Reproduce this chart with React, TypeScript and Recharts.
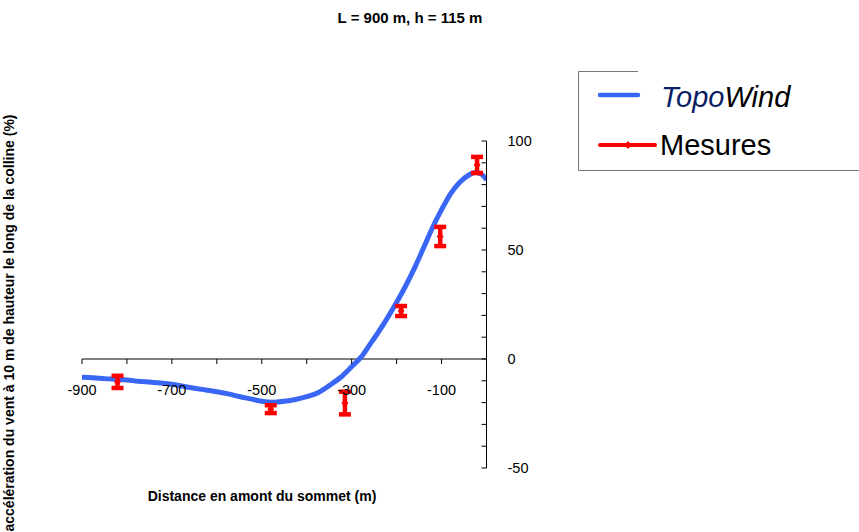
import {
  ComposedChart,
  ErrorBar,
  Line,
  ReferenceDot,
  ReferenceLine,
  Scatter,
  XAxis,
  YAxis,
} from "recharts";

const TOPO_X = [
  -900, -875, -850, -825, -800, -775, -750, -725, -700, -675, -650, -625, -600,
  -575, -550, -525, -500, -475, -450, -425, -400, -375, -350, -325, -300, -280,
  -260, -240, -220, -200, -180, -160, -140, -120, -100, -80, -60, -40, -25, -12, 0,
];
const TOPO_Y = [
  -8.4, -8.6, -9.0, -9.3, -9.6, -10.2, -10.6, -11.0, -11.6, -12.5, -13.4, -14.2,
  -15.0, -16.0, -17.2, -18.3, -19.4, -19.8, -19.4, -18.6, -17.3, -15.5, -12.2,
  -8.5, -3.5, 0.6, 6.5, 12.5, 19.0, 26.0, 33.5, 41.8, 51.0, 60.3, 68.5, 75.8,
  81.0, 84.3, 85.5, 84.8, 82.2,
];

const MES_X = [-821, -480, -315, -190, -103, -21];
const MES_Y = [-10.5, -23, -20.2, 22, 56.2, 89];
const MES_ERR = [2.8, 1.8, 5.2, 2.3, 4.4, 3.7];

const X_TICKS = [-900, -800, -700, -600, -500, -400, -300, -200, -100];
const X_LABELS = [-900, -700, -500, -300, -100];
const Y_TICKS = [-50, -40, -30, -20, -10, 0, 10, 20, 30, 40, 50, 60, 70, 80, 90, 100];
const Y_LABELS = [-50, 0, 50, 100];

const FONT = '"Liberation Sans", Arial, sans-serif';
const BLUE = "#3A66F5";
const RED = "#FF0000";

const topo = TOPO_X.map((x, i) => ({ x, y: TOPO_Y[i] }));
const mesures = MES_X.map((x, i) => ({ x, y: MES_Y[i], err: MES_ERR[i] }));

const YTick = (props: any) => {
  const { x, y, payload } = props;
  return (
    <g>
      <line x1={x - 5} y1={y} x2={x} y2={y} stroke="#000" />
      {Y_LABELS.includes(payload.value) && (
        <text
          x={x + 21}
          y={y}
          textAnchor="start"
          dominantBaseline="central"
          fontFamily={FONT}
          fontSize={14.5}
          fill="#000"
        >
          {payload.value}
        </text>
      )}
    </g>
  );
};

const Diamond = (props: any) => {
  const { cx, cy } = props;
  return (
    <path
      d={`M${cx},${cy - 4}L${cx + 3.5},${cy}L${cx},${cy + 4}L${cx - 3.5},${cy}Z`}
      fill={RED}
    />
  );
};

export default function App() {
  return (
    <div style={{ position: "absolute", left: 0, top: 0, width: 859, height: 532 }}>
      <ComposedChart
        width={859}
        height={532}
        margin={{ top: 141, right: 312.5, bottom: 64, left: 82 }}
      >
        <XAxis
          dataKey="x"
          type="number"
          domain={[-900, 0]}
          allowDataOverflow
          hide
        />
        <YAxis
          dataKey="y"
          type="number"
          orientation="right"
          domain={[-50, 100]}
          ticks={Y_TICKS}
          interval={0}
          allowDataOverflow
          width={60}
          tickSize={0}
          tickMargin={0}
          tickLine={false}
          axisLine={{ stroke: "#000" }}
          tick={YTick}
        />
        <ReferenceLine y={0} stroke="#000" />
        <Line
          data={topo}
          dataKey="y"
          type="monotone"
          stroke={BLUE}
          strokeWidth={5}
          dot={false}
          isAnimationActive={false}
        />
        {X_TICKS.map((t) => (
          <ReferenceDot
            key={t}
            x={t}
            y={0}
            r={0}
            shape={(p: any) => (
              <g>
                <line x1={p.cx} y1={p.cy} x2={p.cx} y2={p.cy + 5} stroke="#000" />
                {X_LABELS.includes(t) && (
                  <text
                    x={p.cx}
                    y={p.cy + 31}
                    textAnchor="middle"
                    dominantBaseline="central"
                    fontFamily={FONT}
                    fontSize={14.5}
                    fill="#000"
                  >
                    {t}
                  </text>
                )}
              </g>
            )}
          />
        ))}
        <Scatter
          data={mesures}
          dataKey="y"
          fill={RED}
          shape={Diamond}
          isAnimationActive={false}
        >
          <ErrorBar
            dataKey="err"
            direction="y"
            width={6}
            strokeWidth={4.5}
            stroke={RED}
            isAnimationActive={false}
          />
        </Scatter>
      </ComposedChart>

      <svg
        width={859}
        height={532}
        style={{ position: "absolute", left: 0, top: 0, pointerEvents: "none" }}
      >
        <text
          x={410}
          y={17}
          textAnchor="middle"
          dominantBaseline="central"
          fontFamily={FONT}
          fontWeight="bold"
          fontSize={15}
        >
          L = 900 m, h = 115 m
        </text>
        <text
          x={262}
          y={496}
          textAnchor="middle"
          dominantBaseline="central"
          fontFamily={FONT}
          fontWeight="bold"
          fontSize={14}
        >
          Distance en amont du sommet (m)
        </text>
        <text
          transform="translate(9,323) rotate(-90)"
          textAnchor="middle"
          dominantBaseline="central"
          fontFamily={FONT}
          fontWeight="bold"
          fontSize={14}
        >
          accélération du vent à 10 m de hauteur le long de la colline (%)
        </text>

        {/* legend */}
        <path d="M638,71.5 H578.5 V170.5 H859" fill="none" stroke="#777" />
        <line x1={600} y1={95} x2={638} y2={95} stroke={BLUE} strokeWidth={4.5} strokeLinecap="round" />
        <text x={661} y={106.5} fontFamily={FONT} fontStyle="italic" fontSize={29}>
          <tspan fill="#0B1F66">Topo</tspan>
          <tspan fill="#000">Wind</tspan>
        </text>
        <line x1={600} y1={145} x2={655} y2={145} stroke={RED} strokeWidth={4} strokeLinecap="round" />
        <path d="M628,141L631.5,145L628,149L624.5,145Z" fill={RED} />
        <text x={660} y={155} fontFamily={FONT} fontSize={29} fill="#000">
          Mesures
        </text>
      </svg>
    </div>
  );
}
